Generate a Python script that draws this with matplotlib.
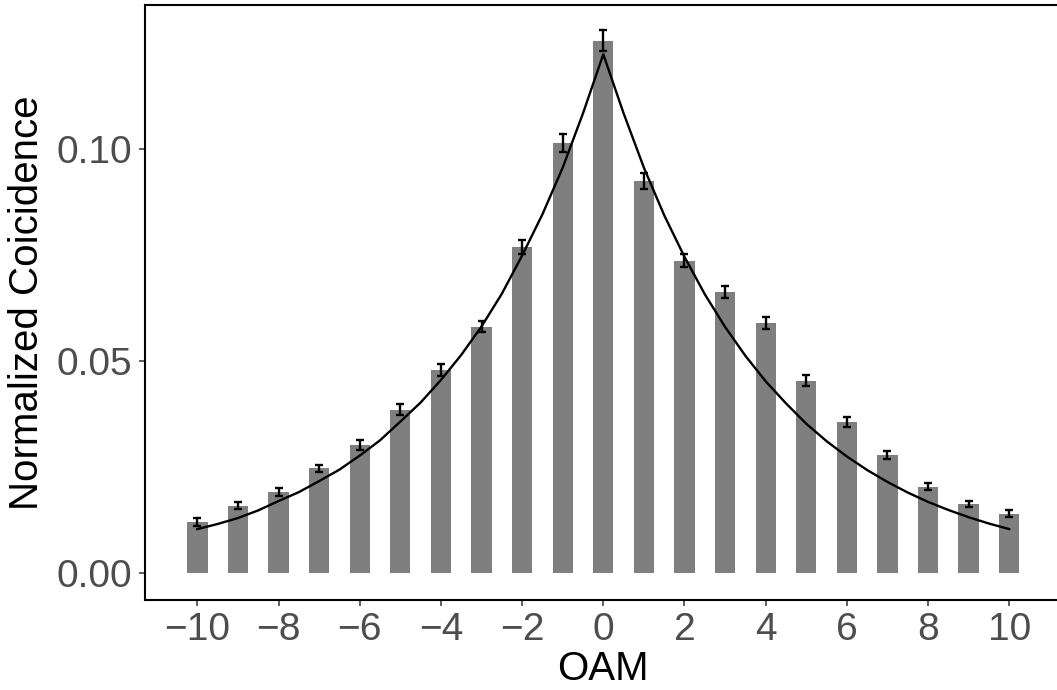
import numpy as np
import matplotlib
matplotlib.use("Agg")
import matplotlib.pyplot as plt

plt.rcParams['font.family'] = ['Liberation Sans', 'DejaVu Sans']

oam = [-10, -9, -8, -7, -6, -5, -4, -3, -2, -1, 0, 1, 2, 3, 4, 5, 6, 7, 8, 9, 10]
coinc = [0.0121, 0.0159, 0.0191, 0.0247, 0.0302, 0.0385, 0.0479, 0.0580, 0.0768,
         0.1014, 0.1254, 0.0924, 0.0736, 0.0662, 0.0589, 0.0453, 0.0356, 0.0279,
         0.0204, 0.0163, 0.0140]
err = [0.0010, 0.0008, 0.0009, 0.0009, 0.0011, 0.0013, 0.0014, 0.0013, 0.0017,
       0.0021, 0.0024, 0.0019, 0.0015, 0.0015, 0.0015, 0.0013, 0.0011, 0.0009,
       0.0008, 0.0007, 0.0008]

# fitted curve, read at half steps
fit_x = [-10, -9.5, -9, -8.5, -8, -7.5, -7, -6.5, -6, -5.5, -5, -4.5, -4, -3.5,
         -3, -2.5, -2, -1.5, -1, -0.5, 0, 0.5, 1, 1.5, 2, 2.5, 3, 3.5, 4, 4.5,
         5, 5.5, 6, 6.5, 7, 7.5, 8, 8.5, 9, 9.5, 10]
fit_y = [0.0104, 0.0116, 0.0130, 0.0148, 0.0170, 0.0191, 0.0217, 0.0244, 0.0277,
         0.0313, 0.0357, 0.0402, 0.0455, 0.0514, 0.0581, 0.0658, 0.0748, 0.0845,
         0.0955, 0.1083, 0.1222, 0.1083, 0.0955, 0.0843, 0.0745, 0.0657, 0.0580,
         0.0512, 0.0452, 0.0400, 0.0352, 0.0311, 0.0275, 0.0243, 0.0215, 0.0190,
         0.0168, 0.0149, 0.0132, 0.0117, 0.0104]

fig = plt.figure(figsize=(10.57, 6.9), dpi=100)
ax = fig.add_axes([145 / 1057, 90 / 690, 916.6 / 1057, 595 / 690])

ax.bar(oam, coinc, width=0.5, color='#7f7f7f', zorder=1)
ax.errorbar(oam, coinc, yerr=err, fmt='none', ecolor='black', elinewidth=1.7,
            capsize=3, capthick=1.7, zorder=3)
ax.plot(fit_x, fit_y, color='black', linewidth=1.7, zorder=2)

ax.set_xlim(-11.29, 11.29)
ax.set_ylim(-0.0063, 0.1338)
ax.set_xticks(range(-10, 11, 2))
ax.set_yticks([0.0, 0.05, 0.10])
ax.set_yticklabels(['0.00', '0.05', '0.10'])

for s in ['left', 'bottom', 'top']:
    ax.spines[s].set_linewidth(1.5)
    ax.spines[s].set_color('black')
ax.spines['right'].set_visible(False)

ax.tick_params(axis='both', length=4, width=1.1, color='#333333',
               labelcolor='#4d4d4d', labelsize=28, pad=5)

ax.set_xlabel('OAM', fontsize=29, color='black', labelpad=1)
ax.set_ylabel('Normalized Coicidence', fontsize=29, color='black', labelpad=8)

fig.savefig('out.png', dpi=100)
